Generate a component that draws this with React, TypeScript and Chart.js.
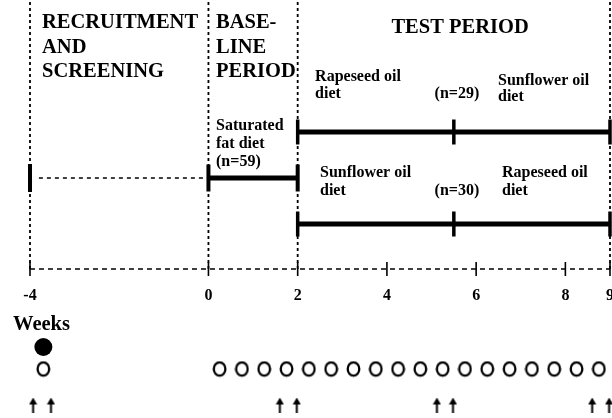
import React, { useEffect, useRef } from "react";
import { Chart, registerables } from "chart.js";

Chart.register(...registerables);

// ---- Data (weeks on the x axis; rows are vertical positions in a 0..418 row scale) ----
const WEEK_TICKS = [-4, 0, 2, 4, 6, 8, 9];
const PERIOD_BOUNDS = [-4, 0, 2, 9];
const BASELINE_SPAN = [0, 2];
const TEST_SPAN = [2, 9];
const CROSSOVER_WEEK = 5.5;
const SCREENING_WEEK = -4;
const SCREEN_VISIT_WEEKS = [-3.7];
const VISIT_WEEKS = [0.25, 0.75, 1.25, 1.75, 2.25, 2.75, 3.25, 3.75, 4.25, 4.75, 5.25, 5.75, 6.25, 6.75, 7.25, 7.75, 8.25, 8.75];
const ARROW_WEEKS = [-3.93, -3.53, 1.6, 1.98, 5.12, 5.48, 8.6, 8.98];

// row levels
const ROW_TOP = 2;
const ROW_AXIS = 269;
const ROW_BASE = 178;
const ROW_GROUP1 = 132;
const ROW_GROUP2 = 224;
const ROW_DOT = 347;
const ROW_VISIT = 369;
const ROW_ARROW = 405;

const X_MIN = -4.672;
const X_MAX = 9.045;

const SERIF = '"Liberation Serif", "Times New Roman", serif';
const H_FONT = `bold 20.5px ${SERIF}`;
const S_FONT = `bold 16px ${SERIF}`;
const T_FONT = `bold 16px ${SERIF}`;

type Label = { text: string; x: number; y: number; font: string; align: CanvasTextAlign };

const LABELS: Label[] = [
  { text: "RECRUITMENT", x: -3.73, y: 28, font: H_FONT, align: "left" },
  { text: "AND", x: -3.73, y: 53, font: H_FONT, align: "left" },
  { text: "SCREENING", x: -3.73, y: 77, font: H_FONT, align: "left" },
  { text: "BASE-", x: 0.17, y: 28, font: H_FONT, align: "left" },
  { text: "LINE", x: 0.17, y: 53, font: H_FONT, align: "left" },
  { text: "PERIOD", x: 0.17, y: 77, font: H_FONT, align: "left" },
  { text: "TEST PERIOD", x: 5.64, y: 33, font: H_FONT, align: "center" },
  { text: "Rapeseed oil", x: 2.39, y: 81, font: S_FONT, align: "left" },
  { text: "diet", x: 2.39, y: 98, font: S_FONT, align: "left" },
  { text: "(n=29)", x: 5.57, y: 98, font: S_FONT, align: "center" },
  { text: "Sunflower oil", x: 6.49, y: 85, font: S_FONT, align: "left" },
  { text: "diet", x: 6.49, y: 101, font: S_FONT, align: "left" },
  { text: "Saturated", x: 0.17, y: 130, font: S_FONT, align: "left" },
  { text: "fat diet", x: 0.17, y: 148, font: S_FONT, align: "left" },
  { text: "(n=59)", x: 0.17, y: 166, font: S_FONT, align: "left" },
  { text: "Sunflower oil", x: 2.5, y: 177, font: S_FONT, align: "left" },
  { text: "diet", x: 2.5, y: 195, font: S_FONT, align: "left" },
  { text: "(n=30)", x: 5.57, y: 195, font: S_FONT, align: "center" },
  { text: "Rapeseed oil", x: 6.58, y: 177, font: S_FONT, align: "left" },
  { text: "diet", x: 6.58, y: 195, font: S_FONT, align: "left" },
  { text: "Weeks", x: -4.38, y: 330, font: H_FONT, align: "left" },
];

function makeArrow(): HTMLCanvasElement {
  const c = document.createElement("canvas");
  c.width = 9;
  c.height = 15;
  const g = c.getContext("2d")!;
  g.fillStyle = "#000";
  g.beginPath();
  g.moveTo(4.5, 0);
  g.lineTo(8.5, 7);
  g.lineTo(0.5, 7);
  g.closePath();
  g.fill();
  g.fillRect(3.5, 6, 2, 9);
  return c;
}

function makeO(): HTMLCanvasElement {
  const c = document.createElement("canvas");
  c.width = 15;
  c.height = 17;
  const g = c.getContext("2d")!;
  g.strokeStyle = "#000";
  g.lineWidth = 2.3;
  g.beginPath();
  g.ellipse(7.5, 8.5, 5.8, 6.6, 0, 0, Math.PI * 2);
  g.stroke();
  return c;
}

const textPlugin = {
  id: "diagramText",
  afterDatasetsDraw(chart: any) {
    const ctx = chart.ctx;
    const xs = chart.scales.x;
    const ys = chart.scales.y;
    ctx.save();
    ctx.fillStyle = "#000";
    ctx.textBaseline = "alphabetic";
    for (const l of LABELS) {
      ctx.font = l.font;
      ctx.textAlign = l.align;
      ctx.fillText(l.text, xs.getPixelForValue(l.x), ys.getPixelForValue(l.y));
    }
    ctx.font = T_FONT;
    ctx.textAlign = "center";
    for (const w of WEEK_TICKS) {
      ctx.fillText(String(w), xs.getPixelForValue(w), ys.getPixelForValue(300));
    }
    ctx.restore();
  },
};

const line = (pts: { x: number; y: number }[], width: number, dash: number[] = []) => ({
  data: pts,
  showLine: true,
  borderColor: "#000",
  backgroundColor: "#000",
  borderWidth: width,
  borderDash: dash,
  pointRadius: 0,
  clip: false as any,
});

const marks = (pts: { x: number; y: number }[], extra: any) => ({
  data: pts,
  showLine: false,
  borderColor: "#000",
  backgroundColor: "#000",
  clip: false as any,
  ...extra,
});

export default function App() {
  const ref = useRef<HTMLCanvasElement>(null);
  useEffect(() => {
    const arrow = makeArrow();
    const oGlyph = makeO();
    const datasets: any[] = [];
    for (const w of PERIOD_BOUNDS) {
      datasets.push(line([{ x: w, y: ROW_TOP }, { x: w, y: ROW_AXIS }], 1.8, [3, 3]));
    }
    datasets.push(line([{ x: WEEK_TICKS[0], y: ROW_AXIS }, { x: WEEK_TICKS[WEEK_TICKS.length - 1], y: ROW_AXIS }], 1.5, [5, 4]));
    datasets.push(marks(WEEK_TICKS.map((w) => ({ x: w, y: ROW_AXIS })), { pointStyle: "line", rotation: 90, pointRadius: 7, borderWidth: 1.6 }));
    datasets.push(line([{ x: SCREENING_WEEK + 0.2, y: ROW_BASE }, { x: BASELINE_SPAN[0], y: ROW_BASE }], 1.5, [4, 4]));
    datasets.push(marks([{ x: SCREENING_WEEK, y: ROW_BASE }], { pointStyle: "line", rotation: 90, pointRadius: 14, borderWidth: 4 }));
    datasets.push(line(BASELINE_SPAN.map((w) => ({ x: w, y: ROW_BASE })), 5));
    datasets.push(marks(BASELINE_SPAN.map((w) => ({ x: w, y: ROW_BASE })), { pointStyle: "line", rotation: 90, pointRadius: 13.5, borderWidth: 4 }));
    for (const row of [ROW_GROUP1, ROW_GROUP2]) {
      datasets.push(line(TEST_SPAN.map((w) => ({ x: w, y: row })), 5));
      datasets.push(marks([TEST_SPAN[0], CROSSOVER_WEEK, TEST_SPAN[1]].map((w) => ({ x: w, y: row })), { pointStyle: "line", rotation: 90, pointRadius: 12.5, borderWidth: 3.5 }));
    }
    datasets.push(marks(SCREEN_VISIT_WEEKS.map((w) => ({ x: w, y: ROW_DOT })), { pointStyle: "circle", pointRadius: 9, borderWidth: 0 }));
    datasets.push(marks([...SCREEN_VISIT_WEEKS, ...VISIT_WEEKS].map((w) => ({ x: w, y: ROW_VISIT })), { pointStyle: oGlyph, pointRadius: 5 }));
    datasets.push(marks(ARROW_WEEKS.map((w) => ({ x: w, y: ROW_ARROW })), { pointStyle: arrow, pointRadius: 5 }));

    const chart = new Chart(ref.current!, {
      type: "scatter",
      data: { datasets },
      options: {
        animation: false,
        responsive: false,
        devicePixelRatio: 1,
        events: [],
        layout: { padding: 0, autoPadding: false },
        plugins: { legend: { display: false }, tooltip: { enabled: false } },
        scales: {
          x: { type: "linear", min: X_MIN, max: X_MAX, display: false },
          y: { type: "linear", min: 0, max: 418, reverse: true, display: false },
        },
      },
      plugins: [textPlugin],
    });
    return () => chart.destroy();
  }, []);
  return (
    <div style={{ position: "absolute", left: 0, top: 0, width: 612, height: 418, background: "#fff" }}>
      <canvas ref={ref} width={612} height={418} style={{ width: 612, height: 418 }} />
    </div>
  );
}
